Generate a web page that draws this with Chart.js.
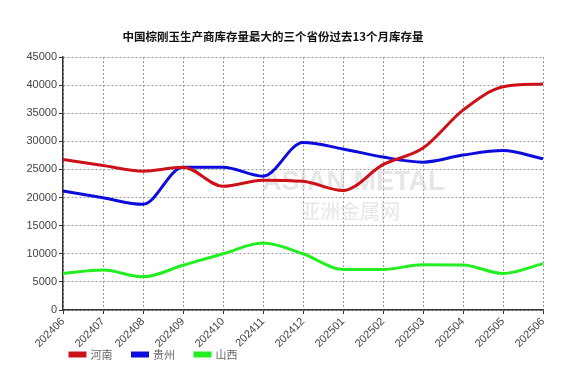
<!DOCTYPE html>
<html><head><meta charset="utf-8">
<script src="https://cdn.jsdelivr.net/npm/chart.js@4"></script>
<style>html,body{margin:0;padding:0;background:#fff}#wrap{width:571px;height:383px}</style>
</head><body><div id="wrap"><canvas id="c" width="571" height="383"></canvas></div>
<script>
const categories = ['202406','202407','202408','202409','202410','202411','202412','202501','202502','202503','202504','202505','202506'];
const henan  = [26750, 25700, 24700, 25400, 22000, 23100, 22900, 21250, 25850, 28800, 35550, 39700, 40200];
const guizhou = [21150, 19950, 18800, 25400, 25400, 23800, 29800, 28650, 27200, 26300, 27550, 28350, 26900];
const shanxi = [6500, 7100, 5900, 7950, 10000, 11900, 10000, 7200, 7200, 8050, 8000, 6500, 8250];
const seriesNames = ['河南','贵州','山西'];
const yTicks = [0,5000,10000,15000,20000,25000,30000,35000,40000,45000];
const titleText = '中国棕刚玉生产商库存量最大的三个省份过去13个月库存量';

const FONT = '"Noto Sans CJK SC", "Liberation Sans", Arial, sans-serif';
const LAT = '"Liberation Sans", Arial, sans-serif';

const titlePlugin = {
  id: 'customTitle',
  afterDraw(chart) {
    const ctx = chart.ctx;
    ctx.save();
    ctx.font = 'bold 11.5px ' + FONT;
    ctx.fillStyle = '#111';
    ctx.textAlign = 'center';
    ctx.textBaseline = 'middle';
    ctx.fillText(titleText, 273, 37);
    ctx.restore();
  }
};
const watermarkPlugin = {
  id: 'watermark',
  beforeDatasetsDraw(chart) {
    const ctx = chart.ctx;
    ctx.save();
    ctx.fillStyle = 'rgba(200,200,200,0.45)';
    ctx.font = 'bold 27px ' + LAT;
    ctx.textAlign = 'left';
    ctx.textBaseline = 'middle';
    ctx.fillText('ASIAN METAL', 262, 183);
    ctx.font = '20px ' + FONT;
    ctx.fillText('亚洲金属网', 300, 211);
    ctx.restore();
  }
};
const legendTweak = {
  id: 'legendTweak',
  beforeLayout(chart) {
    const l = chart.legend;
    if (l && !l._wrapped) {
      const orig = l.fit;
      l.fit = function () { orig.apply(this, arguments); this.height = 35; };
      l._wrapped = true;
    }
  },
  afterLayout(chart) {
    const l = chart.legend;
    if (l) { l.left += 44; l.right += 44; l.top -= 19; l.bottom -= 19; }
  }
};

const mk = (label, data, color) => ({
  label, data, borderColor: color, backgroundColor: color,
  borderWidth: 3, pointRadius: 0, fill: false,
  cubicInterpolationMode: 'monotone'
});

new Chart(document.getElementById('c'), {
  type: 'line',
  data: {
    labels: categories,
    datasets: [
      mk(seriesNames[0], henan, '#cc1118'),
      mk(seriesNames[1], guizhou, '#0c0cdd'),
      mk(seriesNames[2], shanxi, '#22ee22')
    ]
  },
  options: {
    responsive: false,
    animation: false,
    layout: { padding: { top: 57, right: 28, left: 6, bottom: 0 } },
    plugins: {
      title: { display: false },
      tooltip: { enabled: false },
      legend: {
        position: 'bottom', align: 'start',
        labels: { boxWidth: 15, boxHeight: 3, padding: 20, color: '#666',
          font: { family: FONT, size: 11 } }
      }
    },
    scales: {
      x: {
        offset: false,
        afterFit(s) { s.height = 38; },
        grid: { color: '#999', lineWidth: 1, tickLength: 4, tickColor: '#333' },
        border: { display: true, color: '#333', width: 1.5, dash: [2, 2] },
        ticks: { color: '#444', minRotation: 45, maxRotation: 45, autoSkip: false, padding: 1,
          font: { family: LAT, size: 11 } }
      },
      y: {
        min: 0, max: 45000,
        afterFit(s) { s.width = 57; },
        afterBuildTicks(axis) { axis.ticks = yTicks.map(v => ({ value: v })); },
        grid: { color: '#999', lineWidth: 1, tickLength: 4, tickColor: '#333' },
        border: { display: true, color: '#333', width: 1.5, dash: [2, 2] },
        ticks: { color: '#444', padding: 2, callback: v => String(v),
          font: { family: LAT, size: 11 } }
      }
    }
  },
  plugins: [titlePlugin, watermarkPlugin, legendTweak]
});
</script>
</body></html>
